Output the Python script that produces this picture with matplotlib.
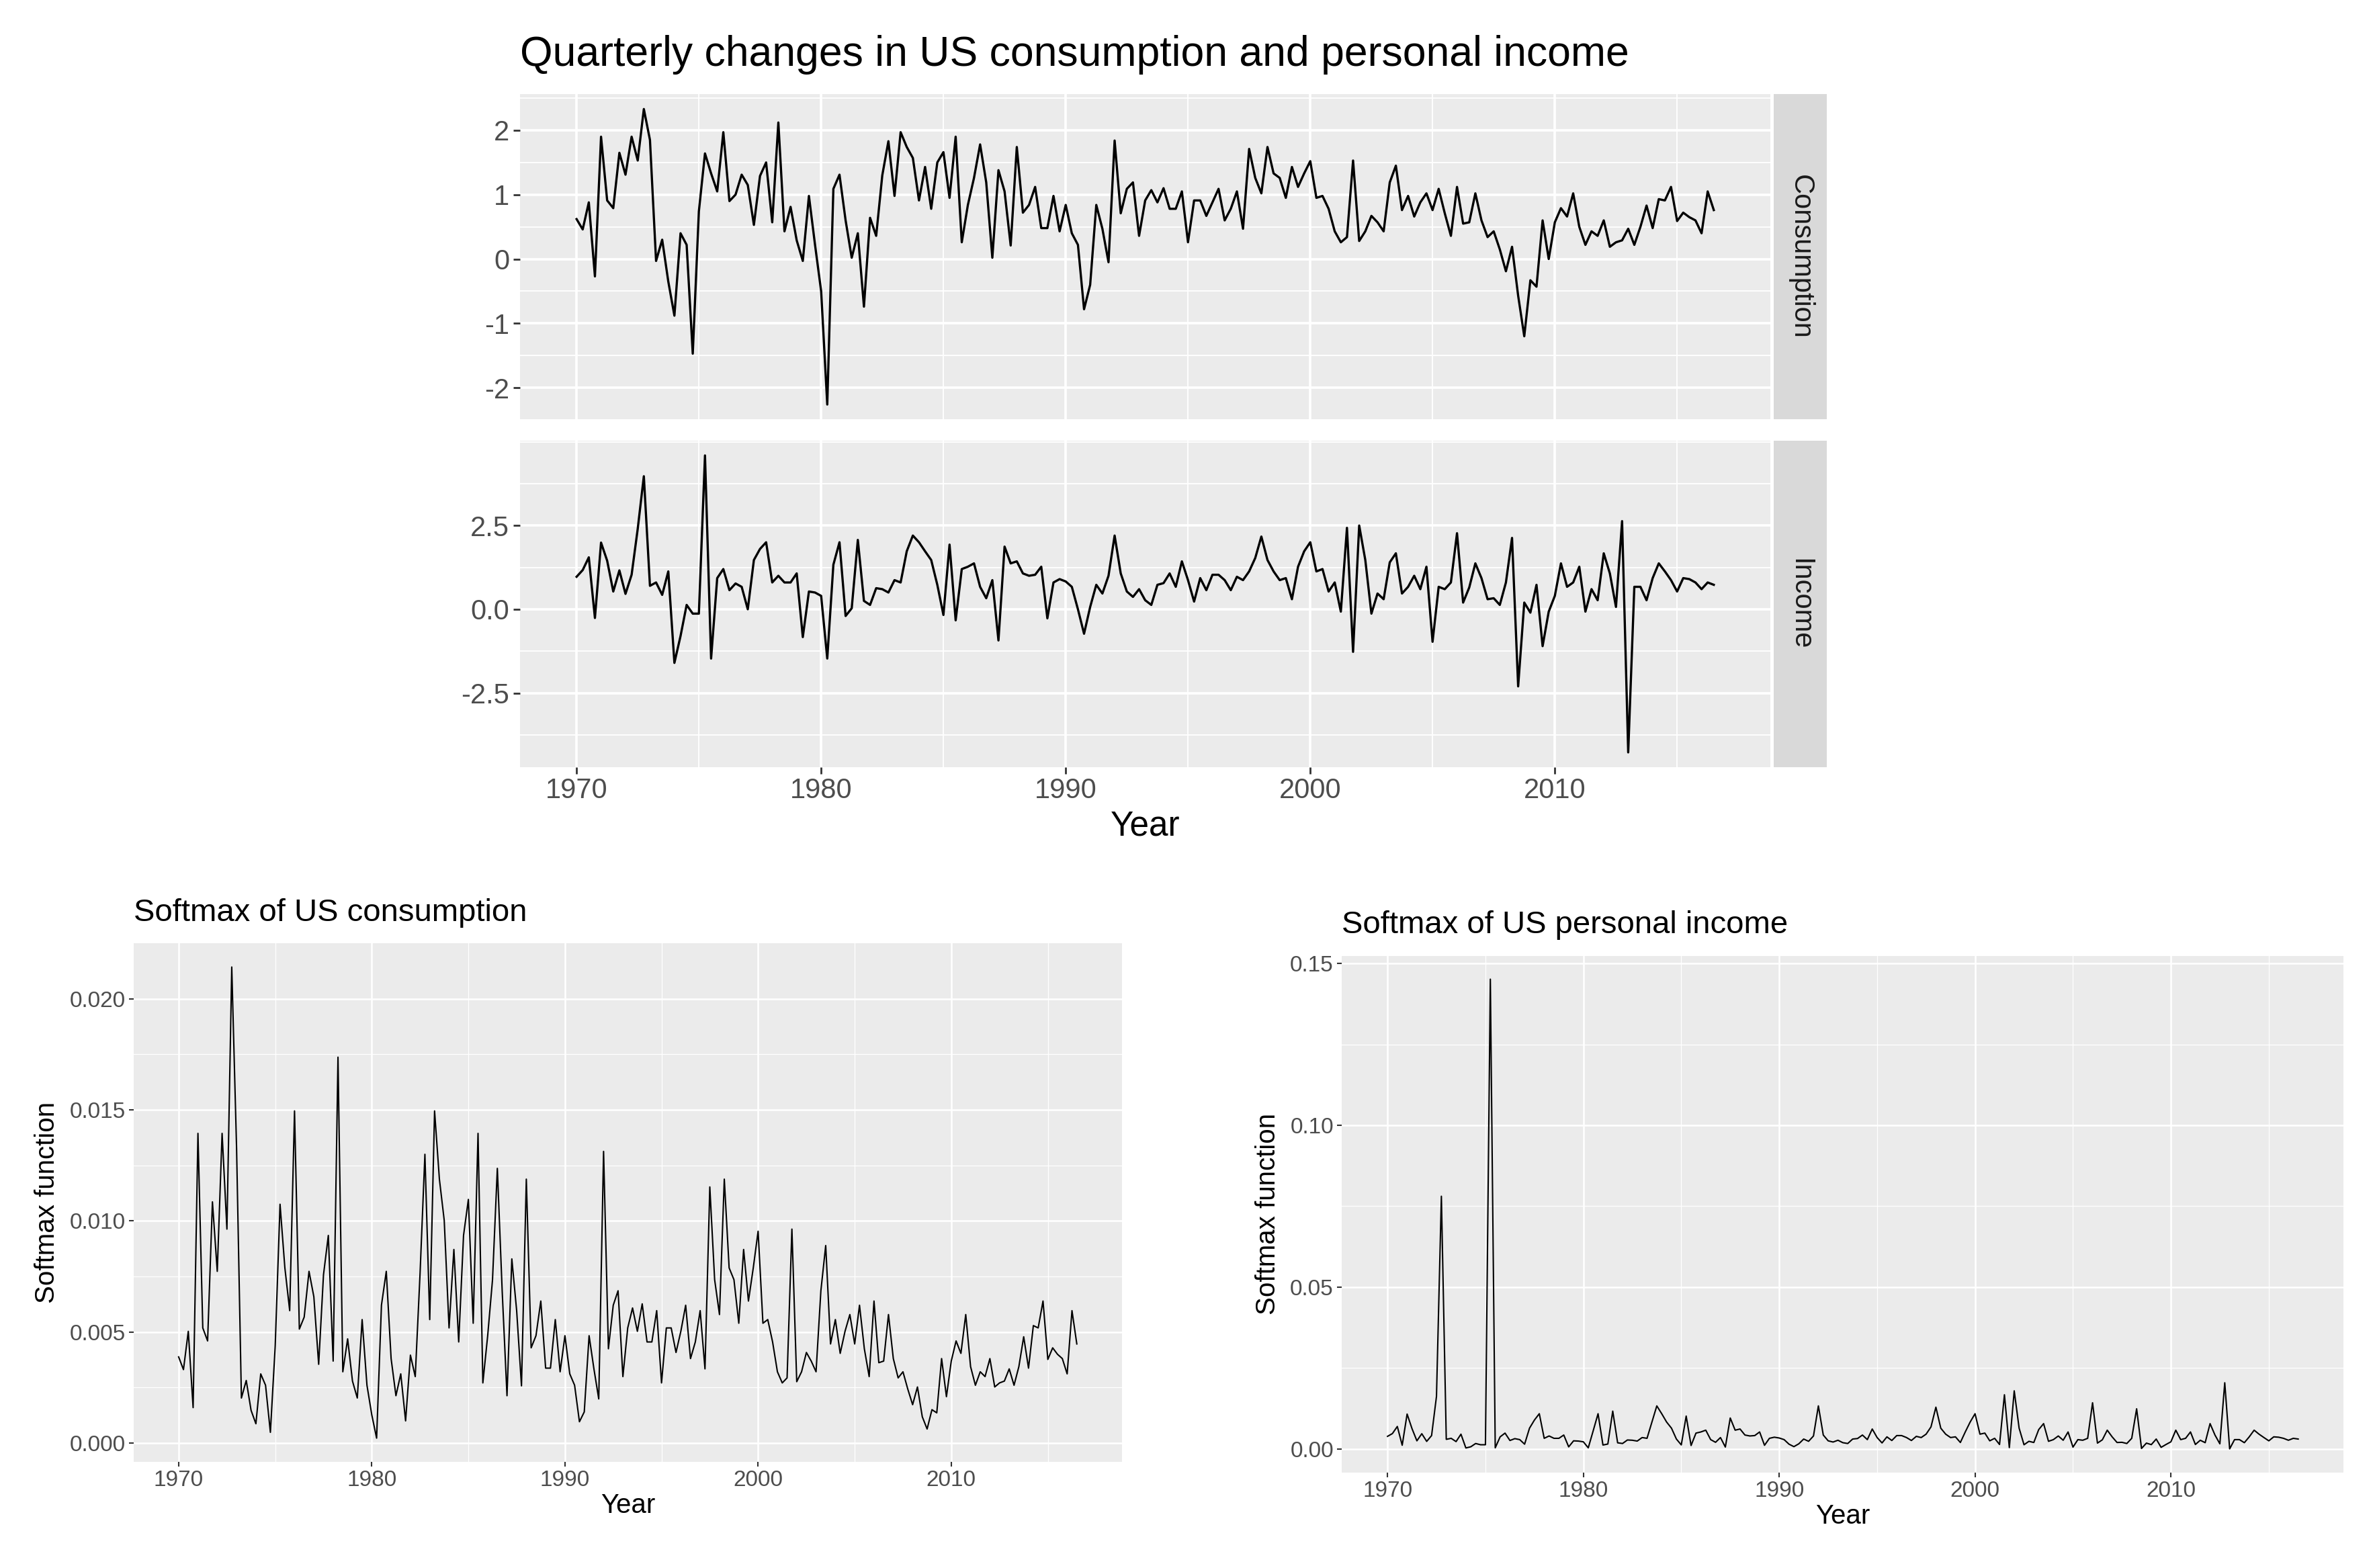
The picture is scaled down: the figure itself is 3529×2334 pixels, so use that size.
import numpy as np
import matplotlib
matplotlib.use("Agg")
import matplotlib.pyplot as plt
from matplotlib.ticker import MultipleLocator

plt.rcParams['font.family'] = ['Liberation Sans', 'DejaVu Sans']
plt.rcParams['axes.unicode_minus'] = False

# quarterly % changes, 1970 Q1 - 2016 Q3
consumption = [
    0.62, 0.46, 0.88, -0.27, 1.90, 0.91, 0.79, 1.65, 1.31, 1.90,
    1.53, 2.33, 1.85, -0.03, 0.30, -0.35, -0.88, 0.40, 0.22, -1.47,
    0.74, 1.64, 1.33, 1.05, 1.97, 0.90, 1.00, 1.31, 1.15, 0.53,
    1.29, 1.50, 0.57, 2.12, 0.43, 0.81, 0.29, -0.03, 0.98, 0.22,
    -0.50, -2.26, 1.09, 1.31, 0.60, 0.02, 0.40, -0.74, 0.64, 0.36,
    1.30, 1.83, 0.98, 1.97, 1.74, 1.57, 0.91, 1.43, 0.78, 1.50,
    1.66, 0.95, 1.90, 0.26, 0.84, 1.26, 1.78, 1.19, 0.02, 1.38,
    1.05, 0.21, 1.74, 0.72, 0.84, 1.12, 0.48, 0.48, 0.98, 0.43,
    0.84, 0.40, 0.22, -0.78, -0.40, 0.84, 0.47, -0.05, 1.84, 0.71,
    1.09, 1.19, 0.36, 0.91, 1.07, 0.88, 1.10, 0.78, 0.78, 1.05,
    0.26, 0.91, 0.91, 0.67, 0.88, 1.09, 0.60, 0.78, 1.05, 0.47,
    1.71, 1.26, 1.02, 1.74, 1.33, 1.26, 0.95, 1.43, 1.12, 1.33,
    1.52, 0.95, 0.98, 0.78, 0.43, 0.26, 0.34, 1.53, 0.28, 0.43,
    0.67, 0.57, 0.43, 1.19, 1.45, 0.76, 0.98, 0.66, 0.88, 1.02,
    0.76, 1.09, 0.71, 0.36, 1.12, 0.55, 0.57, 1.02, 0.60, 0.34,
    0.43, 0.15, -0.19, 0.19, -0.57, -1.20, -0.33, -0.43, 0.60, 0.00,
    0.57, 0.79, 0.66, 1.02, 0.50, 0.22, 0.43, 0.36, 0.60, 0.19,
    0.26, 0.29, 0.47, 0.22, 0.50, 0.83, 0.48, 0.93, 0.91, 1.12,
    0.59, 0.72, 0.65, 0.60, 0.40, 1.05, 0.76,
]

income = [
    0.97, 1.17, 1.55, -0.26, 1.99, 1.45, 0.53, 1.16, 0.46, 1.03,
    2.40, 3.97, 0.70, 0.80, 0.43, 1.13, -1.60, -0.80, 0.13, -0.13,
    -0.13, 4.59, -1.47, 0.93, 1.20, 0.57, 0.77, 0.67, 0.00, 1.47,
    1.80, 2.00, 0.80, 1.00, 0.80, 0.80, 1.07, -0.83, 0.53, 0.50,
    0.40, -1.47, 1.33, 2.00, -0.20, 0.03, 2.07, 0.25, 0.13, 0.63,
    0.60, 0.50, 0.87, 0.80, 1.73, 2.20, 2.00, 1.73, 1.47, 0.73,
    -0.17, 1.93, -0.33, 1.20, 1.27, 1.37, 0.67, 0.33, 0.87, -0.93,
    1.87, 1.37, 1.43, 1.07, 1.00, 1.03, 1.27, -0.27, 0.80, 0.90,
    0.83, 0.67, 0.00, -0.73, 0.07, 0.73, 0.47, 1.00, 2.20, 1.07,
    0.53, 0.37, 0.60, 0.27, 0.13, 0.73, 0.78, 1.07, 0.67, 1.43,
    0.87, 0.23, 0.93, 0.57, 1.03, 1.03, 0.87, 0.57, 0.97, 0.87,
    1.13, 1.53, 2.17, 1.47, 1.13, 0.87, 0.93, 0.30, 1.27, 1.73,
    2.00, 1.13, 1.20, 0.53, 0.80, -0.07, 2.43, -1.27, 2.50, 1.47,
    -0.13, 0.47, 0.30, 1.40, 1.67, 0.47, 0.67, 1.00, 0.60, 1.27,
    -0.97, 0.67, 0.60, 0.80, 2.27, 0.20, 0.65, 1.37, 0.93, 0.30,
    0.33, 0.13, 0.80, 2.13, -2.30, 0.20, -0.10, 0.73, -1.10, -0.07,
    0.40, 1.37, 0.67, 0.80, 1.27, -0.07, 0.60, 0.27, 1.67, 1.07,
    0.07, 2.63, -4.27, 0.67, 0.67, 0.27, 0.93, 1.37, 1.13, 0.87,
    0.53, 0.93, 0.90, 0.80, 0.60, 0.80, 0.73,
]

start_year = 1970
year = start_year + np.arange(len(consumption)) / 4

consumption_ticks = [-2, -1, 0, 1, 2]
income_ticks = [-2.5, 0.0, 2.5]
year_ticks = [1970, 1980, 1990, 2000, 2010]

# softmax of each series, as shown in the lower charts
cons_arr = np.array(consumption)
inc_arr = np.array(income)
softmax_consumption = np.exp(cons_arr) / np.exp(cons_arr).sum()
softmax_income = np.exp(inc_arr) / np.exp(inc_arr).sum()

PANEL = '#EBEBEB'
STRIP = '#D9D9D9'
TICK_TXT = '#4D4D4D'
TICK_MARK = '#333333'


def ggplot_look(ax, major_lw, minor_lw, label_size, tick_len, tick_w):
    ax.set_facecolor(PANEL)
    for s in ax.spines.values():
        s.set_visible(False)
    ax.set_axisbelow(True)
    ax.grid(which='major', color='white', lw=major_lw)
    ax.grid(which='minor', color='white', lw=minor_lw)
    ax.tick_params(which='major', color=TICK_MARK, labelcolor=TICK_TXT,
                   labelsize=label_size, length=tick_len, width=tick_w, pad=4)
    ax.tick_params(which='minor', length=0)


fig = plt.figure(figsize=(35.29, 23.34), dpi=100)

# --- top: faceted series ---
ax_c = fig.add_axes([0.2192, 0.7326, 0.5276, 0.2073])
ax_i = fig.add_axes([0.2192, 0.5107, 0.5276, 0.2083], sharex=ax_c)

ax_c.plot(year, consumption, color='black', lw=2.4)
ax_i.plot(year, income, color='black', lw=2.4)

for ax in (ax_c, ax_i):
    ggplot_look(ax, 2.6, 1.3, 30, 7, 2)
    ax.set_xticks(year_ticks)
    ax.xaxis.set_minor_locator(MultipleLocator(5))

ax_c.set_yticks(consumption_ticks)
ax_c.yaxis.set_minor_locator(MultipleLocator(0.5))
ax_c.tick_params(axis='x', which='major', length=0, labelbottom=False)

ax_i.set_yticks(income_ticks)
ax_i.yaxis.set_minor_locator(MultipleLocator(1.25))
ax_i.yaxis.set_major_formatter(lambda v, p: f"{v:.1f}")
ax_i.set_xlabel('Year', fontsize=37, color='black', labelpad=6)

for pos, name in ((ax_c.get_position(), 'Consumption'), (ax_i.get_position(), 'Income')):
    sx = fig.add_axes([0.7480, pos.y0, 0.0225, pos.height])
    sx.set_facecolor(STRIP)
    sx.set_xticks([])
    sx.set_yticks([])
    for s in sx.spines.values():
        s.set_visible(False)
    sx.text(0.5, 0.5, name, rotation=-90, ha='center', va='center',
            fontsize=30, color='#1A1A1A', transform=sx.transAxes)

fig.text(0.2192, 0.965, 'Quarterly changes in US consumption and personal income',
         fontsize=45, ha='left', va='center', color='black')

# --- bottom left: softmax of consumption ---
ax_sc = fig.add_axes([0.0564, 0.0678, 0.4167, 0.3305])
ax_sc.plot(year, softmax_consumption, color='black', lw=1.5)
ggplot_look(ax_sc, 1.8, 0.9, 24, 5, 1.5)
ax_sc.set_xticks(year_ticks)
ax_sc.xaxis.set_minor_locator(MultipleLocator(5))
ax_sc.yaxis.set_major_locator(MultipleLocator(0.005))
ax_sc.yaxis.set_minor_locator(MultipleLocator(0.0025))
ax_sc.yaxis.set_major_formatter(lambda v, p: f"{v:.3f}")
ax_sc.set_xlabel('Year', fontsize=29, labelpad=2)
ax_sc.set_ylabel('Softmax function', fontsize=29, labelpad=10)
fig.text(0.0564, 0.4176, 'Softmax of US consumption', fontsize=34,
         ha='left', va='center')

# --- bottom right: softmax of income ---
ax_si = fig.add_axes([0.5660, 0.0610, 0.4225, 0.3295])
ax_si.plot(year, softmax_income, color='black', lw=1.5)
ggplot_look(ax_si, 1.8, 0.9, 24, 5, 1.5)
ax_si.set_xticks(year_ticks)
ax_si.xaxis.set_minor_locator(MultipleLocator(5))
ax_si.yaxis.set_major_locator(MultipleLocator(0.05))
ax_si.yaxis.set_minor_locator(MultipleLocator(0.025))
ax_si.yaxis.set_major_formatter(lambda v, p: f"{v:.2f}")
ax_si.set_xlabel('Year', fontsize=29, labelpad=2)
ax_si.set_ylabel('Softmax function', fontsize=29, labelpad=10)
fig.text(0.5660, 0.4100, 'Softmax of US personal income', fontsize=34,
         ha='left', va='center')

fig.savefig('out.png', dpi=100, facecolor='white')
